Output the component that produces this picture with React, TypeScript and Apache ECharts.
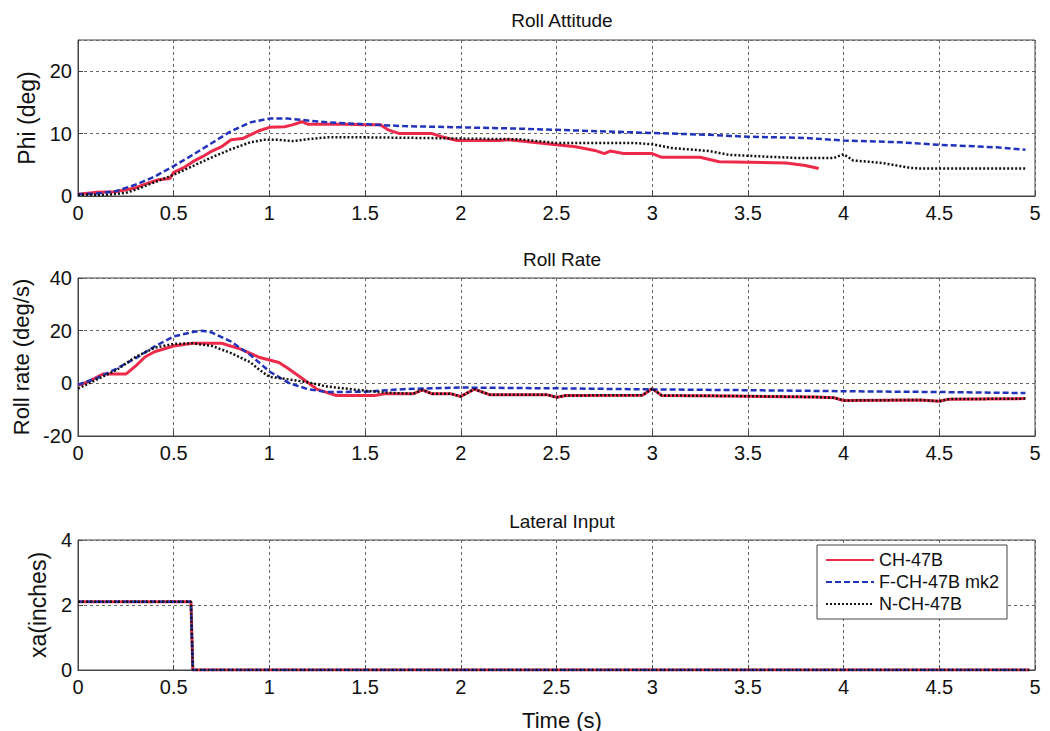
import React, { useEffect, useRef } from "react";
import * as echarts from "echarts";

// ---------- Data ----------
const seriesNames = ["CH-47B", "F-CH-47B mk2", "N-CH-47B"];
const xTicks = [0, 0.5, 1, 1.5, 2, 2.5, 3, 3.5, 4, 4.5, 5];

// Roll Attitude (deg)
const attRedT = [0, 0.1, 0.2, 0.25, 0.3, 0.35, 0.42, 0.48, 0.5, 0.55, 0.6, 0.65, 0.7, 0.75, 0.8, 0.86, 0.9, 0.95, 1.0, 1.08, 1.12, 1.17, 1.2, 1.3, 1.4, 1.5, 1.58, 1.62, 1.68, 1.85, 1.9, 1.98, 2.2, 2.25, 2.35, 2.5, 2.6, 2.7, 2.75, 2.78, 2.85, 3.0, 3.05, 3.25, 3.35, 3.7, 3.8, 3.87];
const attRedV = [0.3, 0.6, 0.7, 1.0, 1.3, 1.9, 2.6, 2.8, 3.8, 4.5, 5.5, 6.3, 7.2, 7.9, 9.0, 9.2, 9.8, 10.5, 11.0, 11.1, 11.4, 11.9, 11.5, 11.5, 11.5, 11.4, 11.4, 10.6, 10.0, 10.0, 9.5, 8.9, 8.9, 9.0, 8.7, 8.2, 7.9, 7.3, 6.8, 7.2, 6.8, 6.8, 6.2, 6.2, 5.5, 5.3, 4.9, 4.4];
const attBlueT = [0, 0.1, 0.2, 0.3, 0.4, 0.5, 0.6, 0.7, 0.8, 0.9, 1.0, 1.1, 1.2, 1.3, 1.5, 1.7, 2.0, 2.3, 2.5, 2.8, 3.0, 3.3, 3.5, 3.8, 4.0, 4.3, 4.5, 4.8, 4.95];
const attBlueV = [0.3, 0.4, 0.8, 1.8, 3.1, 4.8, 6.6, 8.5, 10.4, 11.8, 12.4, 12.4, 12.1, 11.8, 11.5, 11.2, 11.0, 10.8, 10.6, 10.3, 10.1, 9.8, 9.5, 9.3, 8.9, 8.6, 8.2, 7.8, 7.4];
const attBlackT = [0, 0.15, 0.25, 0.3, 0.4, 0.5, 0.6, 0.7, 0.8, 0.9, 0.97, 1.05, 1.12, 1.2, 1.3, 1.5, 1.8, 2.0, 2.3, 2.4, 2.5, 2.9, 3.0, 3.1, 3.3, 3.4, 3.6, 3.75, 3.95, 4.0, 4.05, 4.2, 4.35, 4.4, 4.95];
const attBlackV = [0.2, 0.2, 0.5, 1.0, 2.2, 3.4, 4.8, 6.2, 7.5, 8.6, 9.0, 9.0, 8.8, 9.1, 9.4, 9.4, 9.3, 9.2, 9.1, 8.8, 8.5, 8.5, 8.3, 7.7, 7.2, 6.6, 6.3, 6.1, 6.1, 6.7, 5.7, 5.3, 4.5, 4.4, 4.4];

// Roll Rate (deg/s)
const rateRedT = [0, 0.05, 0.13, 0.25, 0.3, 0.35, 0.4, 0.5, 0.6, 0.75, 0.85, 0.95, 1.05, 1.1, 1.15, 1.25, 1.35, 1.55, 1.6, 1.75, 1.8, 1.85, 1.95, 2.0, 2.07, 2.15, 2.45, 2.5, 2.55, 2.95, 3.0, 3.05, 3.4, 3.85, 3.95, 4.0, 4.4, 4.5, 4.55, 4.95];
const rateRedV = [-0.8, 0.5, 3.5, 3.5, 6.5, 10, 12, 14.2, 15.2, 15.2, 13, 9.8, 7.9, 5.5, 3, -2.3, -4.6, -4.6, -4.0, -4.0, -2.5, -4.0, -4.0, -5.0, -2.2, -4.3, -4.3, -5.3, -4.6, -4.5, -2.0, -4.6, -4.8, -5.2, -5.5, -6.5, -6.3, -6.8, -6.0, -5.8];
const rateBlueT = [0, 0.1, 0.2, 0.3, 0.4, 0.5, 0.6, 0.65, 0.7, 0.8, 0.9, 1.0, 1.1, 1.2, 1.3, 1.5, 1.7, 2.0, 2.5, 3.0, 3.5, 4.0, 4.5, 4.95];
const rateBlueV = [-0.5, 2, 5.5, 9.5, 14, 17.8, 19.5, 20, 19.3, 15.8, 10.8, 4.5, 0.2, -2.2, -3.3, -3.2, -2.2, -1.6, -1.9, -2.3, -2.6, -3.0, -3.3, -3.7];
const rateBlackT = [0, 0.1, 0.2, 0.3, 0.4, 0.5, 0.6, 0.7, 0.8, 0.9, 0.95, 1.0, 1.1, 1.2, 1.3, 1.4, 1.5, 1.6, 1.75, 1.8, 1.85, 1.95, 2.0, 2.07, 2.15, 2.45, 2.5, 2.55, 2.95, 3.0, 3.05, 3.4, 3.85, 3.95, 4.0, 4.4, 4.5, 4.55, 4.95];
const rateBlackV = [-2, 1.5, 5, 10, 13.5, 15, 15.2, 14.2, 11.5, 8, 5, 2.5, 1.5, 0.4, -1.2, -2.0, -2.8, -3.5, -4.0, -2.5, -4.0, -4.0, -5.0, -2.2, -4.3, -4.3, -5.3, -4.6, -4.5, -2.0, -4.6, -4.8, -5.2, -5.5, -6.5, -6.3, -6.8, -6.0, -5.8];

// Lateral Input (inches) - identical for all three models
const latT = [0, 0.59, 0.6, 4.97];
const latV = [2.1, 2.1, 0, 0];

// ---------- Helpers ----------
const zip = (t: number[], v: number[]) => t.map((x, i) => [x, v[i]]);

const FONT = "Liberation Sans, Arial, Helvetica, sans-serif";
const COLORS = ["#ee2a4a", "#2233bb", "#111111"];
const LINE_TYPES: any[] = ["solid", [6, 3], [2, 2]];
const WIDTHS = [3, 2.5, 2.5];

export default function App() {
  const ref = useRef<HTMLDivElement>(null);

  useEffect(() => {
    if (!ref.current) return;
    const chart = echarts.init(ref.current, undefined, { renderer: "svg" });

    const grids = [
      { left: 78, right: 15, top: 40, height: 156 },
      { left: 78, right: 15, top: 278, height: 158 },
      { left: 78, right: 15, top: 540, height: 130 },
    ].map((g) => ({ ...g, show: true, borderColor: "#444", borderWidth: 1, backgroundColor: "transparent" }));

    const gridLine = { show: true, lineStyle: { color: "#666", width: 1, type: [3, 3] as any } };

    const xAxes = [0, 1, 2].map((i) => ({
      type: "value",
      gridIndex: i,
      min: xTicks[0],
      max: xTicks[xTicks.length - 1],
      interval: 0.5,
      axisLine: { show: true, onZero: false, lineStyle: { color: "#444" } },
      axisTick: { show: true, inside: true, length: 5, lineStyle: { color: "#444" } },
      axisLabel: { color: "#111", fontSize: 20, fontFamily: FONT, margin: 7 },
      splitLine: gridLine,
    }));

    const yCommon = {
      type: "value",
      nameLocation: "middle",
      nameRotate: 90,
      nameTextStyle: { color: "#111", fontSize: 23, fontFamily: FONT },
      axisLine: { show: true, onZero: false, lineStyle: { color: "#444" } },
      axisTick: { show: true, inside: true, length: 5, lineStyle: { color: "#444" } },
      axisLabel: { color: "#111", fontSize: 20, fontFamily: FONT, margin: 6 },
      splitLine: gridLine,
    };
    const yAxes = [
      { ...yCommon, gridIndex: 0, min: 0, max: 25, interval: 10, name: "Phi (deg)", nameGap: 36, axisLabel: { ...yCommon.axisLabel, showMaxLabel: false } },
      { ...yCommon, gridIndex: 1, min: -20, max: 40, interval: 20, name: "Roll rate (deg/s)", nameGap: 45, nameTextStyle: { ...yCommon.nameTextStyle, fontSize: 22 } },
      { ...yCommon, gridIndex: 2, min: 0, max: 4, interval: 2, name: "xa(inches)", nameGap: 26 },
    ];

    const panels = [
      [zip(attRedT, attRedV), zip(attBlueT, attBlueV), zip(attBlackT, attBlackV)],
      [zip(rateRedT, rateRedV), zip(rateBlueT, rateBlueV), zip(rateBlackT, rateBlackV)],
      [zip(latT, latV), zip(latT, latV), zip(latT, latV)],
    ];

    const series: any[] = [];
    panels.forEach((p, gi) => {
      p.forEach((data, si) => {
        series.push({
          type: "line",
          name: seriesNames[si],
          xAxisIndex: gi,
          yAxisIndex: gi,
          data,
          symbol: "none",
          z: 2 + si,
          lineStyle: { color: COLORS[si], width: WIDTHS[si], type: LINE_TYPES[si] },
          itemStyle: { color: COLORS[si] },
        });
      });
    });

    const titleStyle = { color: "#111", fontSize: 19, fontWeight: "normal" as const, fontFamily: FONT };
    chart.setOption({
      animation: false,
      backgroundColor: "#ffffff",
      title: [
        { text: "Roll Attitude", left: 557, top: 6, textAlign: "center", textStyle: titleStyle },
        { text: "Roll Rate", left: 557, top: 245, textAlign: "center", textStyle: titleStyle },
        { text: "Lateral Input", left: 557, top: 507, textAlign: "center", textStyle: titleStyle },
        { text: "Time (s)", left: 557, top: 704, textAlign: "center", textStyle: { ...titleStyle, fontSize: 22 } },
      ],
      legend: {
        data: seriesNames,
        orient: "vertical",
        left: 817,
        top: 545,
        padding: [6, 8, 6, 8],
        itemGap: 4,
        itemWidth: 48,
        itemHeight: 20,
        itemStyle: { opacity: 0 },
        backgroundColor: "#fff",
        borderColor: "#444",
        borderWidth: 1,
        borderRadius: 0,
        textStyle: { color: "#111", fontSize: 18, fontFamily: FONT },
        selectedMode: false,
      },
      grid: grids,
      xAxis: xAxes,
      yAxis: yAxes,
      series,
    });

    return () => chart.dispose();
  }, []);

  return <div ref={ref} style={{ position: "absolute", left: 0, top: 0, width: 1050, height: 731 }} />;
}
